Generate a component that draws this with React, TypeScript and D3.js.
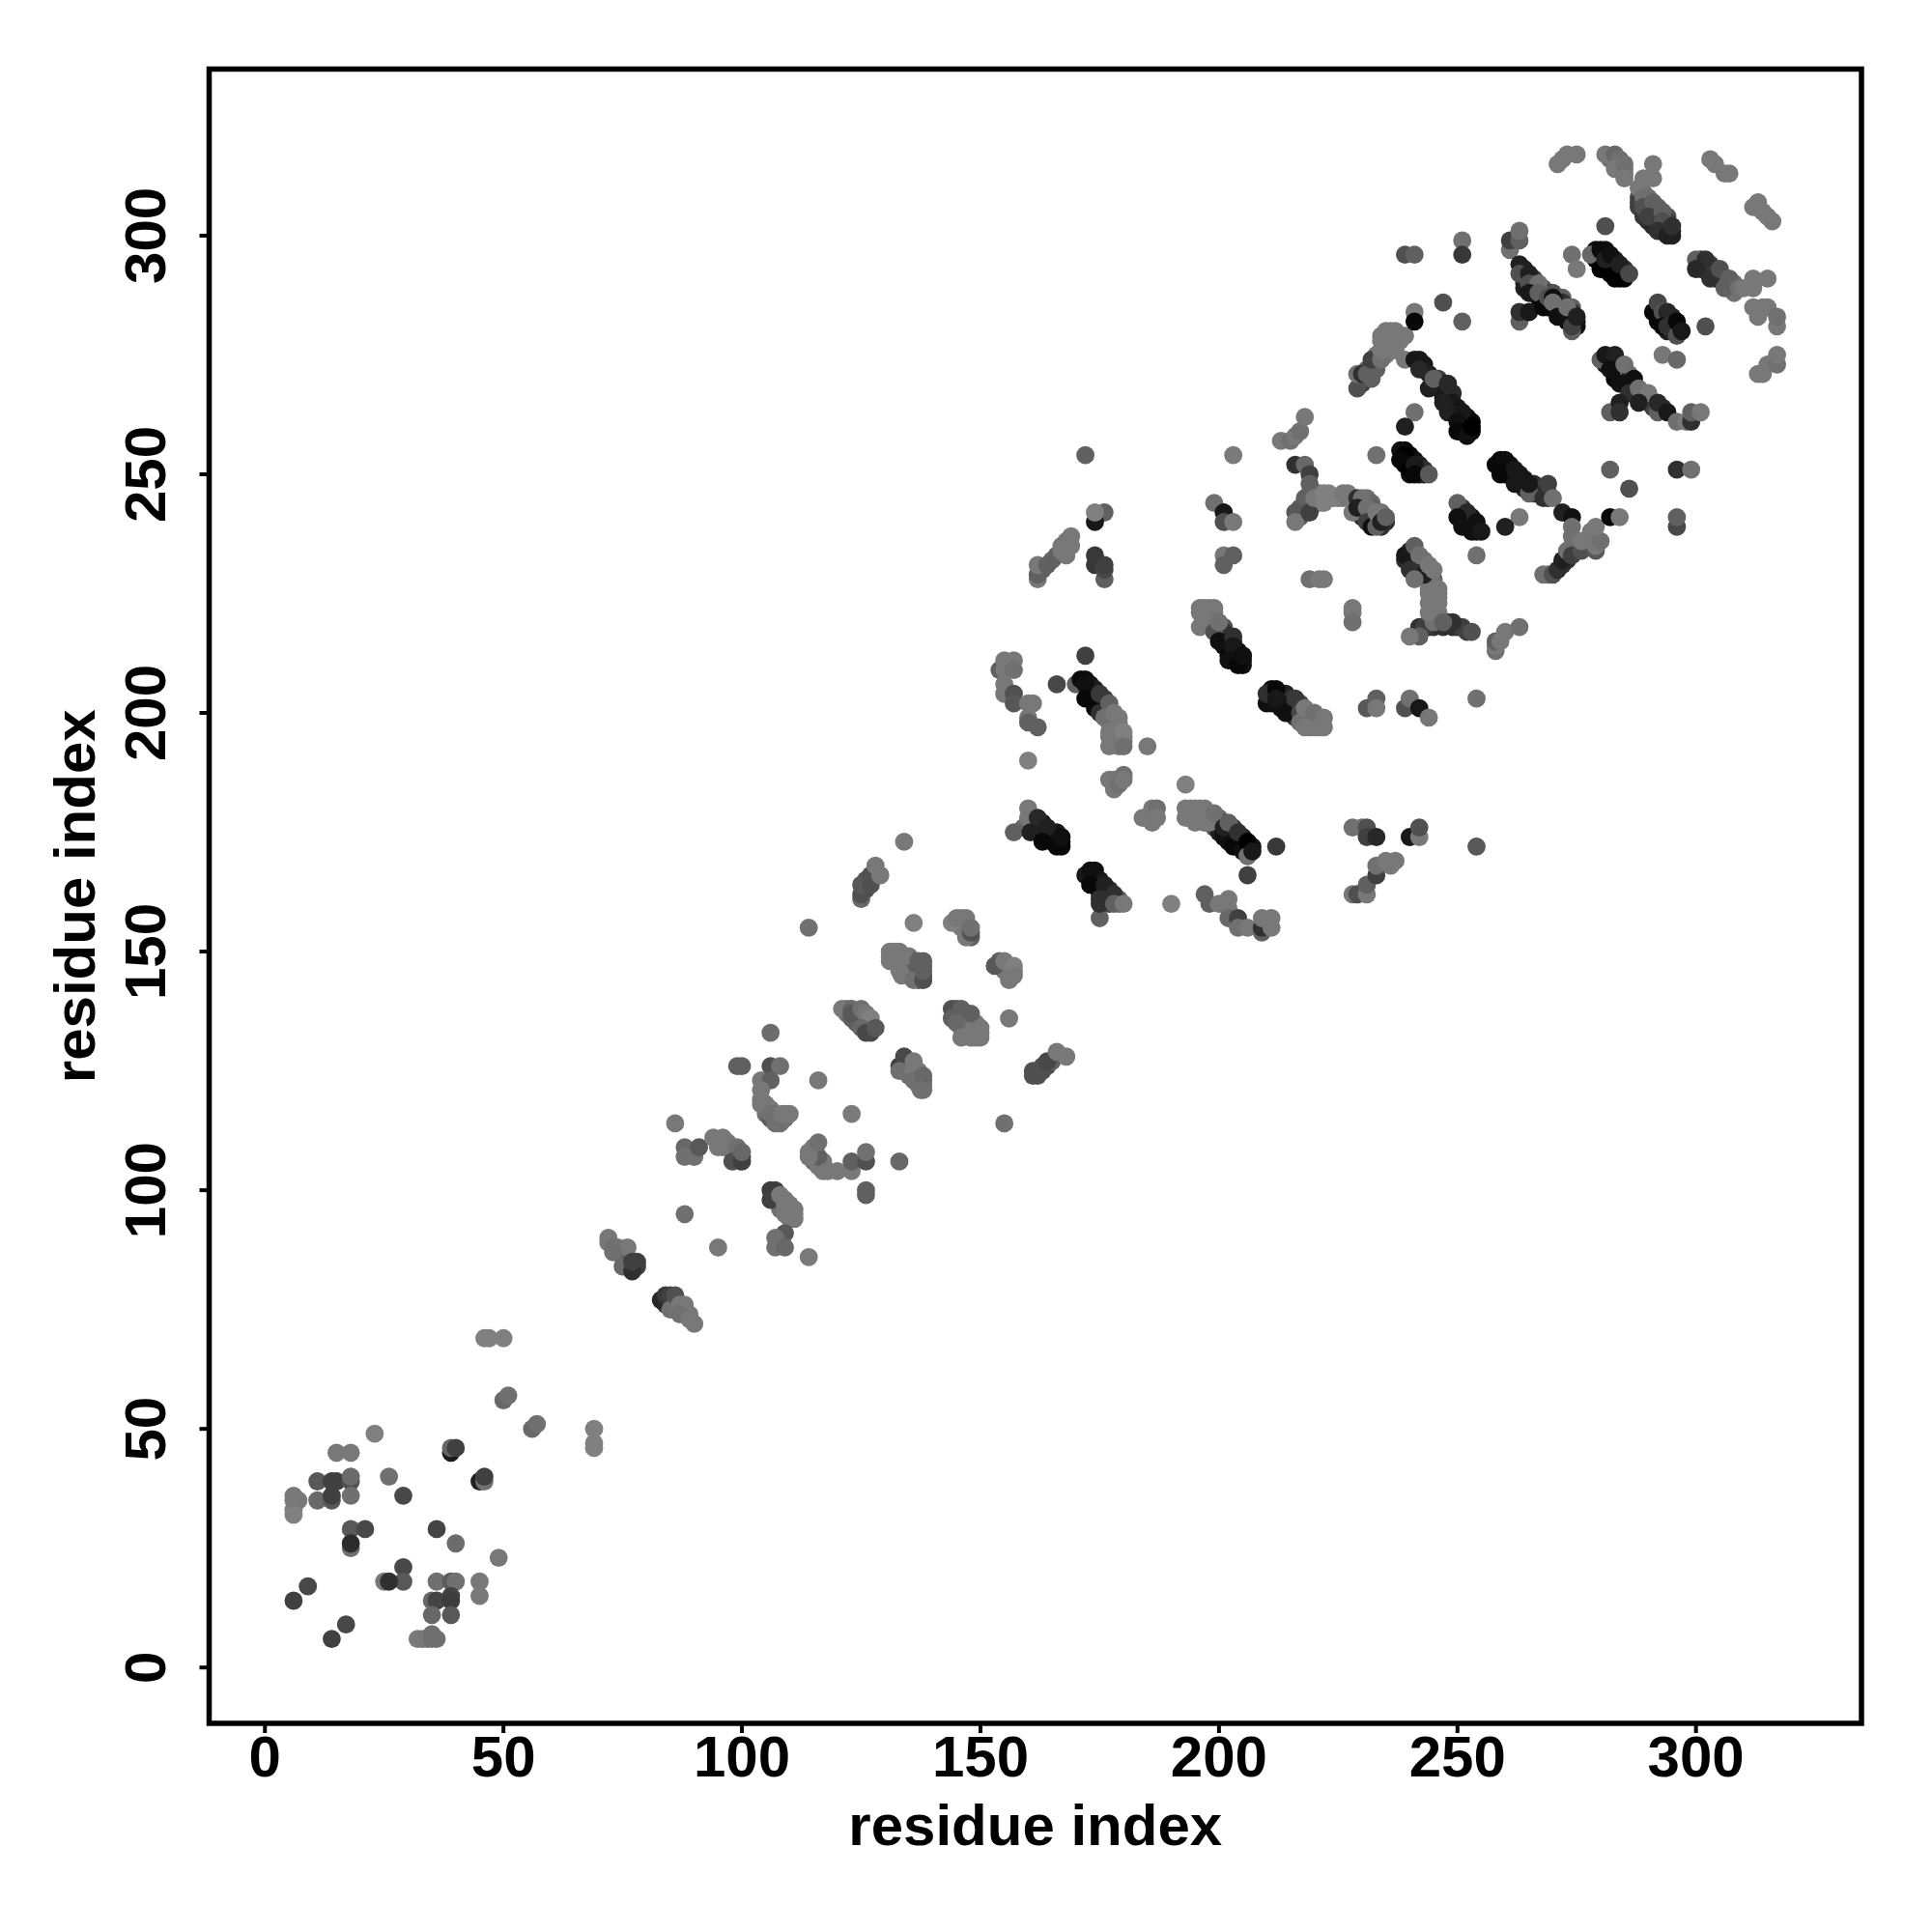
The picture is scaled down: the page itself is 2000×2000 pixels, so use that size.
import React from "react";
import * as d3 from "d3";

type P = [number, number, number];
const xTicks = [0, 50, 100, 150, 200, 250, 300];
const yTicks = [0, 50, 100, 150, 200, 250, 300];
const axisTitle = "residue index";

const bandFillLower: P[] = [
[74,88,0x78],[74,87,0x78],[75,87,0x70],[75,86,0x68],[76,86,0x68],[76,85,0x60],[77,84,0x50],[78,85,0x40],
[84,77,0x30],[84,76,0x40],[85,77,0x40],[86,76,0x60],[86,75,0x70],[87,75,0x70],[88,75,0x78],[88,74,0x78],[89,74,0x78],
[96,110,0x78],[97,109,0x78],[98,109,0x70],[98,108,0x70],[99,108,0x60],[99,107,0x50],[100,107,0x48],[96,109,0x78],
[105,118,0x78],[105,116,0x70],[106,117,0x78],[107,116,0x70],[107,115,0x60],[108,115,0x60],[108,114,0x70],[109,115,0x70],[109,116,0x78],
[107,100,0x40],[107,99,0x48],[107,98,0x48],[108,98,0x70],[108,97,0x70],[109,98,0x78],[110,97,0x78],[110,96,0x78],[110,95,0x78],[110,94,0x78],[111,95,0x78],[108,96,0x70],
[115,109,0x78],[115,107,0x68],[115,106,0x68],[116,106,0x70],[116,105,0x78],[117,105,0x78],[117,106,0x78],[117,104,0x78],
[122,138,0x78],[122,137,0x70],[123,136,0x60],[124,137,0x60],[124,136,0x60],[124,135,0x60],[125,136,0x70],[125,135,0x60],[126,135,0x60],[126,134,0x50],[127,135,0x60],[127,134,0x50],[127,133,0x48],
[131,148,0x78],[132,149,0x78],[133,150,0x78],[133,149,0x78],[133,148,0x78],[134,148,0x78],[134,147,0x78],[134,146,0x78],[135,149,0x78],[135,148,0x78],[135,147,0x78],[135,146,0x78],[135,145,0x70],[136,148,0x60],[136,147,0x60],[136,146,0x60],[136,145,0x60],[137,147,0x60],[137,146,0x60],[137,145,0x58],[137,144,0x50],[138,148,0x60],[138,147,0x60],[138,145,0x50],
[134,127,0x48],[134,126,0x48],[134,125,0x60],[135,127,0x60],[135,126,0x60],[135,125,0x70],[135,124,0x70],[136,126,0x78],[136,124,0x78],[137,125,0x78],[137,124,0x70],[137,123,0x70],[137,122,0x70],[138,123,0x68],[138,122,0x70],[138,121,0x70],
[145,138,0x50],[145,137,0x50],[145,136,0x60],[146,137,0x58],[146,136,0x58],[146,135,0x68],[146,134,0x70],[147,137,0x60],[147,136,0x60],[147,135,0x70],[147,134,0x78],[147,133,0x78],[148,136,0x70],[148,135,0x78],[148,134,0x78],[148,133,0x78],[149,135,0x78],[149,134,0x78],[149,133,0x78],[149,132,0x78],[150,133,0x78],
[146,157,0x78],[146,156,0x78],[147,156,0x78],[147,155,0x78],[147,154,0x78],[148,153,0x60],[146,155,0x78],
[154,148,0x60],[155,147,0x78],[156,147,0x78],[156,146,0x78],[155,146,0x78],[156,145,0x78],[157,146,0x78],
[162,125,0x50],[163,126,0x50],[164,126,0x50],[165,127,0x60],[126,165,0x50],[126,163,0x50],[127,165,0x50],[128,166,0x70],
];
const bandFillMiddle: P[] = [
[163,230,0x60],[165,232,0x68],[167,235,0x78],[168,235,0x78],
[160,177,0x30],[161,178,0x18],[161,176,0x18],[162,177,0x18],[162,175,0x10],[163,177,0x18],[163,175,0x10],[164,174,0x10],[165,175,0x18],[165,174,0x10],[165,173,0x08],[166,175,0x18],[166,174,0x10],[167,173,0x10],[167,172,0x08],
[173,166,0x10],[174,167,0x10],[174,165,0x10],[174,164,0x10],[175,165,0x18],[175,163,0x18],[175,162,0x20],[176,163,0x20],[176,162,0x30],[176,161,0x30],[177,163,0x30],[177,161,0x38],[178,161,0x40],[179,161,0x60],[179,160,0x60],[177,160,0x40],
[172,207,0x10],[173,206,0x10],[173,205,0x10],[173,204,0x10],[174,205,0x20],[174,203,0x10],[174,202,0x10],[175,203,0x28],[175,202,0x20],[176,203,0x40],[176,201,0x20],[176,200,0x30],[177,201,0x50],[177,200,0x50],[177,199,0x60],[178,199,0x70],[178,198,0x78],[178,197,0x78],[178,196,0x78],[178,195,0x78],[178,194,0x78],[179,198,0x78],[179,197,0x78],[179,196,0x78],[179,195,0x78],[179,194,0x78],[179,193,0x78],[180,195,0x78],[180,194,0x78],[177,198,0x70],[177,195,0x78],
[194,180,0x78],[194,179,0x78],[195,179,0x78],[196,180,0x78],[196,179,0x78],[196,178,0x78],[197,179,0x78],[197,178,0x78],[197,177,0x70],[198,179,0x78],[199,178,0x70],[199,177,0x60],[199,176,0x50],[200,178,0x68],[200,177,0x50],[200,176,0x30],[200,175,0x20],[201,177,0x50],[201,175,0x10],[202,176,0x30],[202,175,0x18],[202,174,0x10],[202,173,0x08],[203,176,0x40],[203,175,0x20],[203,174,0x10],[203,173,0x08],[204,174,0x10],[204,173,0x08],[204,172,0x08],[205,174,0x20],[205,173,0x08],[205,172,0x08],[206,172,0x08],[206,171,0x08],[207,172,0x10],
[197,222,0x78],[197,221,0x78],[197,220,0x78],[198,222,0x78],[198,221,0x78],[198,220,0x78],[199,221,0x78],[199,220,0x78],[199,219,0x70],[200,218,0x50],[200,217,0x30],[200,216,0x20],[201,218,0x50],[201,217,0x30],[201,216,0x18],[201,215,0x10],[201,214,0x10],[202,216,0x30],[202,215,0x18],[202,214,0x10],[202,213,0x10],[202,212,0x08],[203,215,0x28],[203,213,0x10],[203,212,0x08],[203,211,0x08],[204,213,0x10],[204,212,0x08],[204,211,0x08],[205,211,0x08],[205,210,0x10],
[211,205,0x10],[211,204,0x10],[211,203,0x10],[211,202,0x10],[212,204,0x10],[212,202,0x10],[213,204,0x18],[213,203,0x10],[213,202,0x10],[213,201,0x10],[214,204,0x20],[214,203,0x18],[214,202,0x10],[214,201,0x10],[215,203,0x30],[215,202,0x18],[215,201,0x10],[215,200,0x10],[216,202,0x30],[216,201,0x20],[216,200,0x20],[216,199,0x30],[217,202,0x48],[217,201,0x40],[217,199,0x50],[218,200,0x60],[218,199,0x68],[218,198,0x70],[219,200,0x78],[219,199,0x78],[219,198,0x78],[219,197,0x78],[220,199,0x78],[220,198,0x78],[220,197,0x78],[221,199,0x78],[221,198,0x78],
[217,243,0x60],[217,241,0x60],[218,243,0x50],[218,242,0x50],[219,246,0x68],[219,244,0x60],[219,243,0x50],[221,246,0x78],[221,245,0x78],[221,244,0x78],[225,245,0x78],[226,245,0x78],[227,246,0x78],[227,245,0x78],
[229,244,0x40],[230,244,0x50],[230,243,0x30],[230,242,0x30],[230,241,0x30],[231,245,0x70],[231,244,0x60],[231,242,0x30],[231,241,0x20],[232,244,0x68],[232,243,0x60],[232,242,0x40],[232,241,0x30],[232,240,0x18],[233,241,0x30],[233,240,0x18],[234,242,0x70],[234,241,0x40],[234,239,0x30],[235,240,0x30],
];
const bandFillUpper: P[] = [
[240,234,0x30],[240,233,0x20],[240,232,0x20],[241,233,0x30],[241,232,0x20],[241,231,0x20],[241,230,0x18],[242,232,0x40],[242,231,0x30],[242,230,0x20],[243,232,0x70],[243,231,0x50],[243,230,0x30],[244,230,0x50],[244,229,0x50],[245,228,0x60],[245,227,0x70],[245,226,0x78],[245,225,0x78],[244,226,0x78],[244,225,0x78],[246,225,0x78],[245,224,0x78],[245,223,0x78],[245,222,0x78],[245,221,0x78],[245,220,0x70],[246,224,0x78],
[244,218,0x30],[245,218,0x30],[246,219,0x30],[247,218,0x30],[248,219,0x30],[249,218,0x30],[250,218,0x30],[251,218,0x40],[252,217,0x40],
[239,255,0x08],[239,253,0x08],[239,252,0x08],[240,254,0x08],[240,253,0x08],[240,252,0x08],[240,250,0x10],[241,253,0x10],[241,251,0x08],[242,252,0x20],[242,251,0x10],[242,250,0x18],[243,251,0x30],[243,250,0x20],
[251,243,0x30],[251,242,0x20],[251,241,0x10],[251,240,0x10],[252,241,0x10],[252,240,0x10],[252,239,0x10],[253,241,0x18],[253,240,0x10],[253,239,0x10],[253,238,0x10],[254,239,0x10],[254,238,0x10],
[259,253,0x08],[259,252,0x08],[260,252,0x08],[260,251,0x08],[260,250,0x08],[261,252,0x10],[261,251,0x08],[261,250,0x08],[262,250,0x10],[263,250,0x18],[263,249,0x10],[263,248,0x18],[264,249,0x18],[264,248,0x18],[264,247,0x20],[265,247,0x18],[266,248,0x30],[266,247,0x20],[266,246,0x30],[267,247,0x30],[267,246,0x30],[268,247,0x40],[268,246,0x30],[269,246,0x30],[269,245,0x30],
[242,274,0x18],[242,273,0x18],[243,273,0x18],[243,272,0x18],[244,271,0x20],[245,269,0x20],[246,270,0x40],[246,269,0x20],[246,268,0x20],[247,269,0x20],[247,268,0x20],[247,267,0x18],[247,266,0x18],[248,268,0x20],[248,267,0x20],[248,266,0x18],[248,265,0x18],[248,264,0x18],[249,267,0x28],[249,265,0x18],[249,264,0x18],[249,263,0x18],[250,264,0x18],[250,263,0x10],[250,262,0x10],[251,262,0x10],[251,261,0x08],[251,260,0x08],[252,262,0x10],[252,261,0x08],[252,260,0x00],[252,259,0x00],[253,261,0x08],[253,259,0x08],
[230,269,0x40],[230,270,0x40],[231,272,0x68],[232,272,0x40],[232,273,0x40],[233,275,0x78],[233,273,0x68],[233,272,0x60],[234,278,0x78],[235,280,0x78],[235,278,0x78],[235,275,0x78],[236,278,0x78],[237,280,0x78],[237,278,0x78],[237,276,0x78],[238,278,0x78],
[264,293,0x20],[264,291,0x18],[264,290,0x20],[264,289,0x20],[265,291,0x18],[265,289,0x18],[266,291,0x40],[266,290,0x30],[266,289,0x18],[266,288,0x10],[267,289,0x20],[267,287,0x10],[268,289,0x60],[268,288,0x30],[268,287,0x10],[268,286,0x08],[269,288,0x30],[269,286,0x08],[269,285,0x08],[270,288,0x50],[270,285,0x08],[271,287,0x40],[271,286,0x20],[271,285,0x10],[271,284,0x08],[272,287,0x60],[272,286,0x30],[272,285,0x20],[272,284,0x08],[272,283,0x08],[273,284,0x10],[273,283,0x08],[273,282,0x08],[274,285,0x60],[274,284,0x30],[274,283,0x10],[274,282,0x08],[275,282,0x10],[275,281,0x10],
[279,297,0x10],[279,296,0x10],[279,295,0x08],[280,296,0x10],[280,295,0x08],[280,294,0x00],[281,297,0x10],[281,296,0x10],[281,294,0x00],[281,293,0x00],[282,295,0x10],[282,294,0x08],[282,293,0x00],[282,292,0x00],[283,295,0x20],[283,294,0x10],[283,293,0x00],[283,292,0x00],[284,293,0x10],[284,292,0x00],[284,291,0x00],[285,293,0x30],[285,292,0x20],[285,291,0x00],
[281,274,0x18],[281,273,0x18],[282,274,0x18],[282,273,0x10],[283,274,0x20],[283,273,0x10],[283,272,0x10],[283,271,0x10],[283,270,0x08],[284,272,0x40],[284,271,0x20],[284,270,0x10],[285,272,0x60],[285,271,0x40],[285,270,0x10],[285,269,0x10],[286,271,0x70],[286,270,0x20],[286,269,0x10],[286,268,0x10],[287,269,0x40],[287,268,0x40],[287,267,0x40],[288,267,0x50],[288,266,0x40],[289,267,0x70],[289,266,0x60],[290,266,0x60],[290,265,0x50],[291,265,0x50],[291,264,0x40],[293,264,0x30],
[292,285,0x30],[292,284,0x10],[292,283,0x08],[292,282,0x08],[293,283,0x08],[293,282,0x08],[294,283,0x10],[294,282,0x08],[294,280,0x20],[295,283,0x20],[295,282,0x10],[295,281,0x10],[295,280,0x20],[296,281,0x10],[296,280,0x30],
[288,308,0x50],[288,307,0x40],[288,306,0x40],[289,309,0x70],[289,307,0x50],[289,305,0x40],[289,304,0x38],[290,308,0x70],[290,306,0x50],[290,305,0x40],[290,303,0x30],[291,306,0x50],[291,305,0x40],[291,304,0x30],[291,303,0x30],[291,302,0x28],[292,306,0x60],[292,305,0x50],[292,304,0x40],[292,303,0x30],[292,302,0x28],[293,304,0x50],[293,302,0x30],[293,301,0x20],[294,304,0x50],[294,303,0x40],[294,302,0x30],[294,301,0x20],[295,301,0x20],[295,300,0x20],
[301,295,0x30],[301,294,0x30],[301,293,0x30],[302,294,0x30],[302,293,0x30],[303,294,0x40],[303,293,0x30],[303,292,0x30],[304,292,0x40],[304,291,0x30],[305,292,0x50],[305,291,0x40],[306,291,0x60],[306,290,0x50],[307,290,0x60],[307,289,0x60],[308,290,0x70],[308,289,0x70],[308,288,0x70],
[272,231,0x30],[273,233,0x40],[273,232,0x30],[274,235,0x70],[274,234,0x50],[275,235,0x70],[275,234,0x60],[275,236,0x78],[276,235,0x68],[277,236,0x78],[277,235,0x70],[278,237,0x78],[278,236,0x78],[278,235,0x70],[278,238,0x78],
[282,316,0x70],[284,315,0x70],[284,314,0x78],[285,314,0x78],[285,313,0x78],
];

const nTerminal: P[] = [
[46,69,0x80],[47,69,0x80],[50,69,0x80],[50,56,0x68],[51,57,0x70],[56,50,0x68],[57,51,0x70],[69,50,0x80],[69,47,0x80],[69,46,0x80],[23,49,0x80],[15,45,0x78],[18,45,0x78],
[39,45,0x1a],[39,46,0x66],[40,46,0x40],[45,39,0x20],[46,39,0x70],[46,40,0x40],[26,40,0x70],[11,39,0x58],[14,39,0x40],[15,39,0x40],[18,39,0x50],[18,40,0x6a],[18,36,0x70],[29,36,0x48],
[6,36,0x78],[7,35,0x78],[6,35,0x78],[6,33,0x78],[6,32,0x80],[11,35,0x68],[14,35,0x58],[14,36,0x40],[18,29,0x58],[21,29,0x48],[18,25,0x70],[18,26,0x2c],[36,29,0x44],[40,26,0x6c],[49,23,0x78],
[29,21,0x48],[29,18,0x58],[25,18,0x78],[26,18,0x30],[36,18,0x70],[39,18,0x5c],[40,18,0x70],[45,18,0x78],[45,15,0x78],[35,14,0x68],[36,14,0x44],[39,15,0x44],[39,14,0x3c],[35,11,0x68],[39,11,0x58],
[9,17,0x48],[6,14,0x40],[17,9,0x48],[14,6,0x40],[32,6,0x7a],[33,6,0x78],[34,6,0x78],[35,7,0x70],[35,6,0x70],[36,6,0x70],
];
const middleRepeats: P[] = [
[72,90,0x78],[72,89,0x78],[73,88,0x70],[76,88,0x78],[73,87,0x70],[75,84,0x68],[78,84,0x40],[77,83,0x30],[77,85,0x40],
[83,77,0x28],[84,78,0x38],[85,78,0x40],[85,75,0x70],[86,78,0x50],[87,76,0x78],[88,76,0x78],[87,74,0x70],[89,73,0x78],[90,72,0x78],
[86,114,0x78],[88,109,0x68],[88,107,0x70],[90,107,0x70],[91,109,0x58],[88,95,0x70],[95,88,0x78],
[94,111,0x78],[96,111,0x78],[97,110,0x78],[95,109,0x78],[99,109,0x70],[98,106,0x50],[100,106,0x40],[100,108,0x68],
[99,126,0x60],[100,126,0x60],[106,133,0x6c],[106,126,0x50],[108,126,0x70],[104,123,0x78],[106,123,0x60],[104,121,0x78],[104,119,0x78],[104,118,0x78],[106,115,0x58],[106,116,0x70],[107,114,0x70],[108.5,116,0x78],[110,116,0x78],
[116,123,0x78],[123,116,0x7a],[155,114,0x70],[106,100,0x3c],[106,98,0x40],[108,99,0x78],[109,97,0x78],[111,96,0x78],[109,95,0x78],[111,94,0x78],[109,91,0x58],[107,90,0x70],[107,88,0x70],[109,88,0x68],[114,86,0x7a],
[116,107,0x60],[114,108,0x78],[114,107,0x78],[116,110,0x70],[118,104,0x78],[120,104,0x78],[123,104,0x78],[123,106,0x60],[126,106,0x50],[126,108,0x70],[133,106,0x68],[126,100,0x60],[126,99,0x60],
[114,155,0x70],[125,161,0x68],[125,162,0x50],[125,164,0x58],[127,164,0x50],[127,166,0x50],[129,166,0x78],[128,168,0x78],[134,173,0x78],
[121,138,0x78],[123,138,0x68],[123,137,0x58],[125,138,0x70],[126,137,0x78],[127,136,0x80],[125,134,0x68],[126,133,0x48],[128,134,0x58],
[133,126,0x40],[134,128,0x48],[133,125,0x70],[136,127,0x78],[136,125,0x78],[136,123,0x70],[138,124,0x68],[137.5,121,0x70],
[131,150,0x7a],[132,150,0x7a],[134,149,0x78],[131,149,0x78],[132,148,0x78],[133,146,0x78],[133.5,145,0x78],[136,144,0x70],[138,144,0x50],[137,148,0x60],[138,146,0x60],[136,156,0x80],
[144,156,0x80],[145,157,0x78],[147,157,0x78],[147,153,0x78],[148,154,0x50],[148,155,0x70],
[144,138,0x50],[146,138,0x60],[148,137,0x60],[144,136,0x60],[145,135,0x68],[146,132,0x78],[148,132,0x78],[150,134,0x78],[150,132,0x78],[156,136,0x78],
[153,147,0x58],[155,148,0x78],[157,147,0x80],[157,145,0x78],[156,144,0x78],
[161,124,0x50],[161,125,0x50],[162,124,0x50],[163,125,0x50],[164,127,0x48],[166,129,0x78],[168,128,0x78],
];
const helixBlock: P[] = [
[172,254,0x60],[176,242,0x60],[174,240,0x18],[174,242,0x80],[174,233,0x38],[174,231,0x38],[176,228,0x60],[176,230,0x48],[176,231,0x40],
[162,228,0x78],[162,229,0x60],[162,231,0x78],[164,231,0x60],[166,233,0x60],[168,233,0x78],[167,234,0x78],[169,235,0x78],[168,236,0x78],[169,237,0x78],
[154,209,0x60],[155,211,0x78],[157,211,0x78],[155,209,0x78],[157,209,0x70],[155,206,0x78],[155,204,0x78],[157,204,0x50],[157,202,0x58],[160,202,0x78],[161,202,0x78],[160,199,0x78],[160,198,0x60],[162,197,0x60],[160,190,0x80],
[172,212,0x40],[166,206,0x48],[170,206,0x60],[171,207,0x0c],[172,206,0x10],[172,203,0x08],[174,201,0x08],[175,204,0x38],[175,200,0x30],[177,202,0x60],[176,199,0x70],[178,200,0x78],[179,199,0x78],[177,196,0x78],[177,193,0x78],[180,196,0x80],[180,193,0x70],[185,193,0x78],
[177,186,0x78],[178,186,0x78],[178,184,0x78],[179,185,0x70],[180,187,0x70],[180,186,0x78],[193,185,0x80],[184,178,0x78],[186,180,0x78],[187,180,0x70],[186,177,0x78],[187,178,0x78],
[159,176,0x68],[157,175,0x60],[160,180,0x78],[160,178,0x78],[162,178,0x28],[160.5,175,0x20],[164,176,0x20],[163,173,0x08],[166,172,0x08],[167,174,0x10],
[175,157,0x60],[172,166,0x18],[173,167,0x10],[173,164,0x08],[176,164,0x20],[175,161,0x30],[175,160,0x30],[178,162,0x30],[178,160,0x60],[180,160,0x78],[190,160,0x80],
[193,180,0x78],[193,178,0x78],[195,180,0x78],[195,177,0x78],[197,180,0x78],[198,177,0x78],[198,178,0x78],[199,179,0x70],[201,174,0x10],[201,176,0x20],[202,177,0x60],[203,172,0x08],[204,175,0x30],[205,171,0x10],[206,173,0x00],[206,170,0x70],[207,171,0x18],[212,172,0x38],[206,166,0x40],
[197,162,0x60],[198,160,0x60],[200,160,0x78],[202,161,0x78],[202,159,0x78],[202,157,0x68],[204,157,0x40],[204,155,0x70],[206,155,0x78],[209,154,0x60],[209,155,0x30],[209,157,0x78],[211,157,0x78],[211,155,0x78],
[228,176,0x70],[230,176,0x70],[231,176,0x50],[231,174,0x40],[233,174,0x28],[240,174,0x18],[242,174,0x78],[242,176,0x50],
[228,162,0x78],[229,162,0x50],[231,162,0x78],[231,164,0x60],[233,166,0x40],[233,168,0x70],[235,169,0x78],[236,168,0x78],[237,169,0x78],[254,172,0x58],
[196,222,0x78],[199,222,0x78],[196,221,0x78],[196,218,0x78],[198,219,0x78],[199,217,0x50],[200,219,0x70],[200,215,0x10],[203,216,0x30],[203,214,0x18],[202,211,0x10],[204,210,0x08],[205,212,0x02],[205,212,0x10],
[210,202,0x10],[210,204,0x30],[212,205,0x08],[212,203,0x18],[214,200,0x10],[216,203,0x38],[217,200,0x48],[217,198,0x70],[218,201,0x78],[218,197,0x78],[220,200,0x70],[221,197,0x78],[222,199,0x78],[222,197,0x78],
[231,201,0x58],[233,203,0x60],[233,201,0x78],[239,201,0x50],[240,203,0x70],[242,201,0x18],[244,199,0x78],[254,203,0x70],
[199,244,0x70],[201,242,0x18],[201,240,0x50],[203,240,0x78],[203,254,0x7a],[201,233,0x78],[203,233,0x60],[201,231,0x60],[219,228,0x70],[221,228,0x78],[222,228,0x78],[228,222,0x78],[228,221,0x78],[228,219,0x70],
[258,213,0x70],[258,214,0x78],[258,215,0x60],[259,215,0x78],[260,217,0x78],[263,218,0x70],
];
const upperBlock: P[] = [
[213,257,0x78],[215,257,0x70],[216,258,0x78],[217,259,0x70],[218,262,0x78],[216,252,0x30],[218,252,0x68],[219,250,0x40],[219,248,0x60],[218,245,0x60],[216,242,0x58],[216,240,0x78],[219,242,0x40],[220,245,0x78],[222,246,0x80],[223,246,0x80],[224,245,0x80],[222,244,0x80],[226,246,0x78],[228,245,0x78],[229,245,0x30],[230,245,0x70],
[228,242,0x78],[229,243,0x20],[231,243,0x70],[231,240,0x40],[232,239,0x10],[233,239,0x60],[233,242,0x78],[234,240,0x20],[235,241,0x60],[233,254,0x70],
[238,255,0x10],[239,254,0x00],[238,253,0x08],[240,251,0x00],[241,252,0x1a],[241,250,0x08],[244,250,0x58],
[239,232,0x30],[239,233,0x18],[241,235,0x60],[242,233,0x70],[240,230,0x30],[243,229,0x20],[244,231,0x78],[245,230,0x78],[241,228,0x70],[246,226,0x78],[242,218,0x30],[243,218,0x40],[244,219,0x40],[242,216,0x60],[240,216,0x78],[245,219,0x70],[249,219,0x30],[253,217,0x50],[244,223,0x78],[246,223,0x78],[244,221,0x78],[246,221,0x78],[247,219,0x60],
[250,244,0x60],[252,242,0x28],[250,241,0x10],[251,239,0x10],[254,240,0x10],[255,238,0x18],[254,233,0x70],[258,252,0x08],[260,253,0x0c],[259,250,0x08],[262,251,0x18],[262,248,0x18],[265,246,0x60],[265,248,0x18],[268,245,0x30],[269,248,0x40],[270,245,0x70],[272,242,0x20],[274,241,0x10],[263,241,0x78],[260,239,0x20],
[268,229,0x70],[269,229,0x70],[270,229,0x50],[271,230,0x30],[272,232,0x20],[273,234,0x70],[274,233,0x40],[274,237,0x70],[274,239,0x70],[276,234,0x50],[276,236,0x78],[279,234,0x58],[279,235,0x78],[280,236,0x70],[279,239,0x78],[282,241,0x08],[284,241,0x78],[282,251,0x60],[286,247,0x50],[296,239,0x48],[296,241,0x60],[296,251,0x30],[299,251,0x70],
[229,268,0x50],[229,271,0x70],[230,271,0x30],[231,271,0x60],[232,274,0x40],[232,270,0x60],[234,274,0x70],[234,279,0x78],[235,277,0x78],[234,276,0x78],[236,276,0x78],[236,280,0x78],[239,279,0x78],[239,274,0x78],[241,274,0x18],[242,272,0x28],[241,284,0x78],[241,282,0x08],[247,286,0x50],[251,282,0x60],
[244,268,0x20],[245,270,0x60],[248,269,0x28],[247,265,0x20],[248,263,0x20],[251,263,0x18],[250,261,0x10],[250,259,0x08],[252,258,0x10],[253,260,0x00],[241,263,0x70],[239,260,0x20],
[239,296,0x50],[241,296,0x60],[251,299,0x70],[251,296,0x38],
[261,297,0x70],[261,299,0x40],[263,299,0x60],[263,301,0x70],[263,294,0x20],[263,292,0x50],[265,292,0x20],[265,290,0x50],[267,290,0x70],[265,288,0x18],[267,288,0x60],[263,282,0x60],[263,284,0x30],[265,284,0x18],[268,285,0x08],[269,287,0x50],[270,287,0x10],[270,286,0x70],[271,283,0x10],[273,285,0x70],[274,280,0x60],[274,281,0x40],[275,283,0x20],
[274,296,0x70],[275,293,0x78],[278,296,0x68],[280,297,0x0c],[280,293,0x00],[281,295,0x20],[282,296,0x10],[283,291,0x00],[284,294,0x20],[286,292,0x48],[281,302,0x50],
[280,274,0x60],[281,275,0x18],[283,275,0x20],[282,272,0x10],[285,273,0x70],[284,269,0x10],[287,270,0x10],[286,267,0x30],[288,268,0x70],[290,267,0x78],[282,263,0x60],[284,265,0x20],[284,263,0x30],[288,265,0x20],[292,263,0x60],[292,265,0x28],[294,263,0x18],[296,261,0x70],[298,261,0x78],[299,261,0x30],[299,263,0x60],[301,263,0x78],
[291,284,0x08],[292,286,0x48],[293,284,0x50],[294,284,0x28],[293,281,0x08],[294,281,0x30],[296,279,0x50],[296,282,0x08],[297,280,0x18],[302,281,0x50],[293,275,0x78],[296,274,0x68],
];
const cTerminal: P[] = [
[271,315,0x78],[272,316,0x78],[273,317,0x78],[275,317,0x78],[281,317,0x78],[283,317,0x68],[284,316,0x70],[283,314,0x78],[285,315,0x70],[285,312,0x78],[291,315,0x78],[289,312,0x78],[291,312,0x78],[288,310,0x78],[289,308,0x70],[289,306,0x50],[291,307,0x60],[290,304,0x40],[293,305,0x60],[293,303,0x50],[292,301,0x30],[294,300,0x20],[295,302,0x30],
[303,316,0x78],[304,315,0x78],[306,313,0x78],[307,313,0x78],[313,307,0x78],[312,306,0x78],[314,305,0x78],[315,304,0x78],[316,303,0x78],
[300,295,0x60],[302,295,0x30],[300,293,0x28],[303,291,0x30],[305,293,0x50],[306,289,0x60],[307,291,0x60],[309,289,0x70],[310,289,0x78],[312,289,0x78],[312,291,0x78],[315,291,0x78],
[312,285,0x78],[314,285,0x78],[315,285,0x78],[313,283,0x78],[317,281,0x78],[317,283,0x70],[313,271,0x78],[314,271,0x78],[315,273,0x78],[317,273,0x70],[317,275,0x78],
];
const allContacts: P[] = [...bandFillLower, ...bandFillMiddle, ...bandFillUpper, ...nTerminal, ...middleRepeats, ...helixBlock, ...upperBlock, ...cTerminal];

const left = 216.5, right = 1927, top = 71.5, bottom = 1784;
const x = d3.scaleLinear().domain([-11.7, 334.7]).range([left, right]);
const y = d3.scaleLinear().domain([-11.7, 334.9]).range([bottom, top]);
const font = "'Liberation Sans', Arial, sans-serif";

export default function App() {
  return (
    <svg width={2000} height={2000} style={{ position: "absolute", left: 0, top: 0, background: "#fff" }}>
      {allContacts.map((d, i) => (
        <circle key={i} cx={x(d[0])} cy={y(d[1])} r={9.4} fill={d3.rgb(d[2], d[2], d[2]).formatHex()} />
      ))}
      <rect x={left} y={top} width={right - left} height={bottom - top} fill="none" stroke="#000" strokeWidth={5.5} />
      {xTicks.map((t) => (
        <g key={t}>
          <line x1={x(t)} x2={x(t)} y1={bottom} y2={bottom + 10} stroke="#000" strokeWidth={4} />
          <text x={x(t)} y={1839} textAnchor="middle" fontFamily={font} fontWeight="bold" fontSize={60}>{t}</text>
        </g>
      ))}
      {yTicks.map((t) => (
        <g key={t}>
          <line x1={left} x2={left - 10} y1={y(t)} y2={y(t)} stroke="#000" strokeWidth={4} />
          <text transform={`translate(171,${y(t)}) rotate(-90)`} textAnchor="middle" fontFamily={font} fontWeight="bold" fontSize={60}>{t}</text>
        </g>
      ))}
      <text x={(left + right) / 2} y={1910} textAnchor="middle" fontFamily={font} fontWeight="bold" fontSize={60}>{axisTitle}</text>
      <text transform={`translate(98,${(top + bottom) / 2}) rotate(-90)`} textAnchor="middle" fontFamily={font} fontWeight="bold" fontSize={60}>{axisTitle}</text>
    </svg>
  );
}
